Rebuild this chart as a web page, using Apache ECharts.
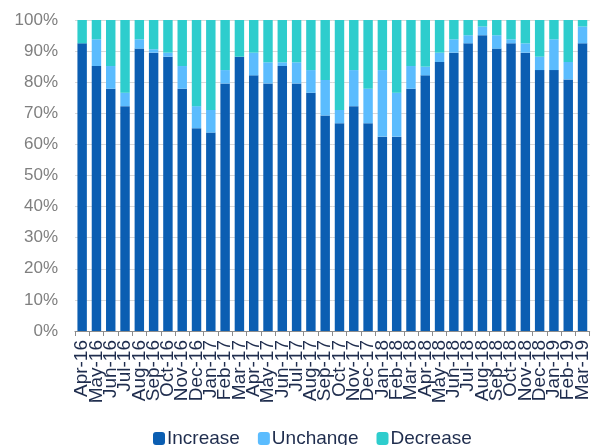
<!DOCTYPE html>
<html><head><meta charset="utf-8">
<script src="https://cdn.jsdelivr.net/npm/echarts@6/dist/echarts.min.js"></script>
<style>html,body{margin:0;padding:0;background:#fff}#c{width:592px;height:445px}</style>
</head><body><div id="c"></div>
<script>
const categories = ["Apr-16","May-16","Jun-16","Jul-16","Aug-16","Sep-16","Oct-16","Nov-16","Dec-16","Jan-17","Feb-17","Mar-17","Apr-17","May-17","Jun-17","Jul-17","Aug-17","Sep-17","Oct-17","Nov-17","Dec-17","Jan-18","Feb-18","Mar-18","Apr-18","May-18","Jun-18","Jul-18","Aug-18","Sep-18","Oct-18","Nov-18","Dec-18","Jan-19","Feb-19","Mar-19"];
const increase = [92.5,85.2,77.9,72.3,90.8,89.5,88.2,77.9,65.2,63.8,79.6,88.2,82.2,79.6,85.2,79.6,76.6,69.3,66.8,72.3,66.8,62.5,62.5,77.9,82.2,86.5,89.5,92.5,95.1,90.8,92.5,89.5,83.9,83.9,80.9,92.5];
const unchange = [0,8.6,7.3,4.3,3.0,1.1,1.3,7.3,7.1,7.3,4.3,0,7.3,6.8,1.2,6.8,7.3,11.4,4.3,11.6,11.1,21.4,14.1,7.3,2.8,3.0,4.3,2.6,2.8,4.3,1.3,3.0,4.3,9.9,5.6,5.4];
const decrease = [7.5,6.2,14.8,23.4,6.2,9.4,10.5,14.8,27.7,28.9,16.1,11.8,10.5,13.6,13.6,13.6,16.1,19.3,28.9,16.1,22.1,16.1,23.4,14.8,15.0,10.5,6.2,4.9,2.1,4.9,6.2,7.5,11.8,6.2,13.5,2.1];
const yTicks = [0,10,20,30,40,50,60,70,80,90,100];

const chart = echarts.init(document.getElementById('c'), null, {renderer:'canvas'});
const mk = (name, data, color) => ({
  name, type:'bar', stack:'s', data, barCategoryGap:'34%',
  itemStyle:{color}
});
chart.setOption({
  animation:false,
  grid:{left:75, right:0, top:20, bottom:114},
  legend:{
    top:424, left:148, itemWidth:12, itemHeight:13, itemGap:18,
    icon:'roundRect',
    textStyle:{fontFamily:'Liberation Sans, Arial', fontSize:19, color:'#1f2d4e', padding:[0,0,0,-3]},
    data:['Increase','Unchange','Decrease']
  },
  xAxis:{
    type:'category', data:categories,
    axisLine:{lineStyle:{color:'#8c8c8c', width:1}},
    axisTick:{show:true, alignWithLabel:false, length:5, lineStyle:{color:'#8c8c8c'}},
    axisLabel:{rotate:90, interval:0, fontFamily:'Liberation Sans, Arial', fontSize:19, color:'#1f2d4e', margin:9}
  },
  yAxis:{
    type:'value', min:0, max:100, interval:10,
    axisLabel:{formatter:v=>v+'%', fontFamily:'Liberation Sans, Arial', fontSize:17, color:'#7f7f7f', margin:17},
    splitLine:{lineStyle:{color:'#d9d9d9', width:1}},
    axisLine:{show:false}, axisTick:{show:false}
  },
  series:[
    mk('Increase', increase, '#0b5eb2'),
    mk('Unchange', unchange, '#5bbcfe'),
    mk('Decrease', decrease, '#2ecdcd')
  ]
});
</script></body></html>
